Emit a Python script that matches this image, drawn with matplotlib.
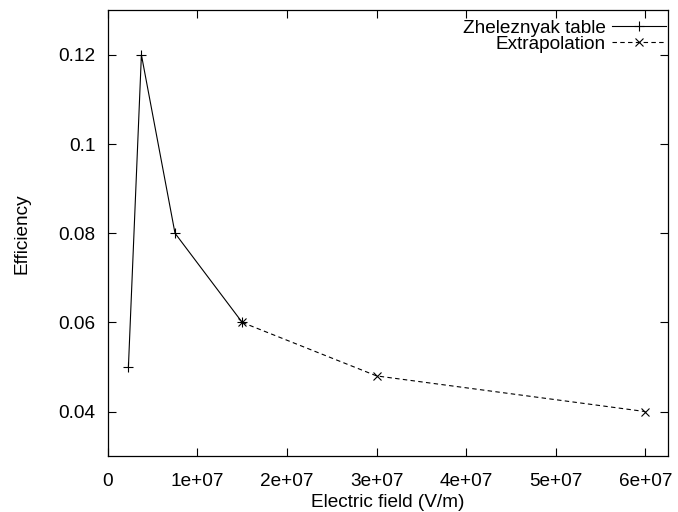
import matplotlib
matplotlib.use("Agg")
import matplotlib.pyplot as plt
from matplotlib.ticker import FuncFormatter

plt.rcParams['font.family'] = ['Liberation Sans', 'DejaVu Sans']

# datos
campo_tabla = [2.3e6, 3.75e6, 7.5e6, 15e6]
efic_tabla = [0.05, 0.12, 0.08, 0.06]
campo_extra = [15e6, 30e6, 60e6]
efic_extra = [0.06, 0.048, 0.04]

xticks = [0, 1e7, 2e7, 3e7, 4e7, 5e7, 6e7]
yticks = [0.04, 0.06, 0.08, 0.1, 0.12]

tam = 13.7

fig = plt.figure(figsize=(6.78, 5.12), dpi=100)
ax = fig.add_axes([0.159, 0.109, 0.826, 0.871])

ax.plot(campo_tabla, efic_tabla, color='black', lw=0.8, marker='+',
        ms=7, mew=0.8, label='Zheleznyak table')
ax.plot(campo_extra, efic_extra, color='black', lw=0.8, ls=(0, (4, 3)),
        marker='x', ms=6, mew=0.8, label='Extrapolation')

ax.set_xlim(0, 6.25e7)
ax.set_ylim(0.03, 0.13)
ax.set_xticks(xticks)
ax.set_yticks(yticks)
fmt = FuncFormatter(lambda v, p: '%g' % v)
ax.xaxis.set_major_formatter(fmt)
ax.yaxis.set_major_formatter(fmt)
ax.tick_params(direction='in', length=6, width=0.8, top=True, right=True,
               labelsize=tam)
ax.tick_params(axis='y', pad=9)
ax.tick_params(axis='x', pad=12)
for s in ax.spines.values():
    s.set_linewidth(0.9)

ax.set_xlabel('Electric field (V/m)', fontsize=tam, labelpad=3)
ax.set_ylabel('Efficiency', fontsize=tam, labelpad=20)

ax.legend(loc='upper right', bbox_to_anchor=(1.0, 0.983), frameon=False,
          markerfirst=False, fontsize=tam, handlelength=2.85,
          handletextpad=0.32, labelspacing=-0.08, borderaxespad=0,
          borderpad=0.1)

fig.savefig('out.png', dpi=100)
